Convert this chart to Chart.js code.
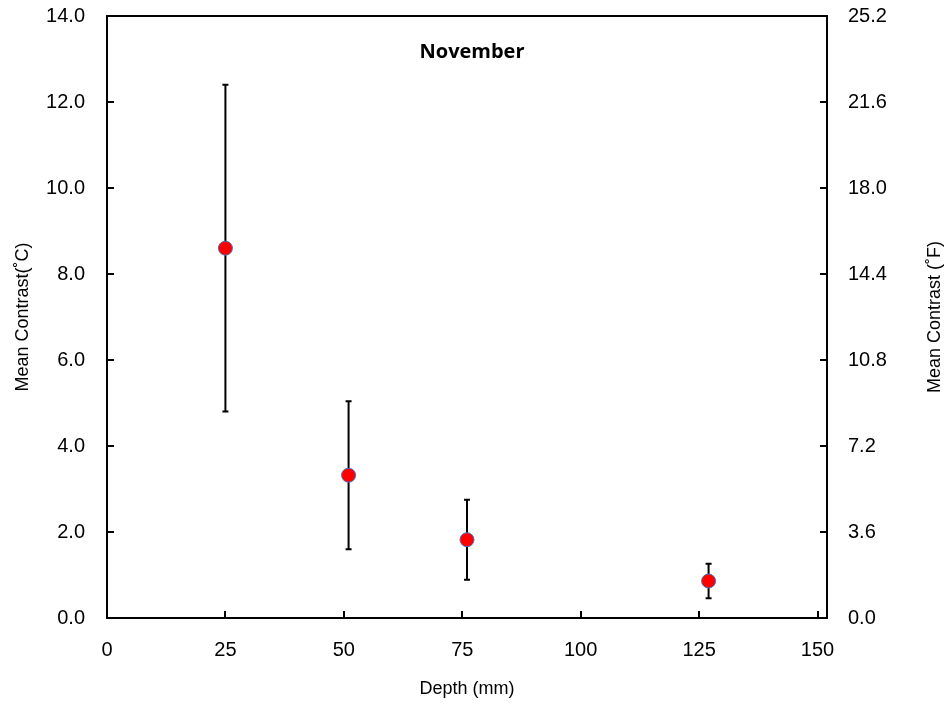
<!DOCTYPE html>
<html>
<head>
<meta charset="utf-8">
<title>November - Mean Contrast vs Depth</title>
<script src="https://cdn.jsdelivr.net/npm/chart.js@4.4.0/dist/chart.umd.min.js"></script>
<style>
  html, body { margin: 0; padding: 0; background: #fff; }
  #wrap { width: 949px; height: 704px; }
</style>
</head>
<body>
<div id="wrap"><canvas id="chart" width="949" height="704"></canvas></div>
<script>
// ================== Data ==================
const depthMm = [25, 51, 76, 127];
const meanContrastC = [8.6, 3.32, 1.82, 0.86];
const errorC = [3.8, 1.72, 0.93, 0.4];

const xTicks = [0, 25, 50, 75, 100, 125, 150];
const leftTicks = [0, 2, 4, 6, 8, 10, 12, 14];
const rightTicks = [0, 3.6, 7.2, 10.8, 14.4, 18.0, 21.6, 25.2];

const chartTitle = 'November';
const xTitle = 'Depth (mm)';
const leftTitle = 'Mean Contrast(\u02DAC)';
const rightTitle = 'Mean Contrast (\u02DAF)';

const tickFont = { family: '"Liberation Sans", Arial, sans-serif', size: 20 };
const titleFont = { family: '"Liberation Sans", Arial, sans-serif', size: 18 };

// ================== Plugins ==================
// inward tick marks, top border line and error bars
const decorPlugin = {
    id: 'decor',
    beforeDatasetsDraw(chart) {
        const ctx = chart.ctx;
        const area = chart.chartArea;
        const x = chart.scales.x, y = chart.scales.y, y2 = chart.scales.y2;
        const len = 7;

        ctx.save();
        ctx.strokeStyle = '#000';
        ctx.lineWidth = 2;

        // top border
        ctx.beginPath();
        ctx.moveTo(area.left - 1, area.top);
        ctx.lineTo(area.right + 1, area.top);
        ctx.stroke();

        ctx.beginPath();
        xTicks.forEach(v => {
            const px = Math.round(x.getPixelForValue(v));
            ctx.moveTo(px, area.bottom);
            ctx.lineTo(px, area.bottom - len);
        });
        leftTicks.forEach(v => {
            const py = Math.round(y.getPixelForValue(v));
            ctx.moveTo(area.left, py);
            ctx.lineTo(area.left + len, py);
        });
        rightTicks.forEach(v => {
            const py = Math.round(y2.getPixelForValue(v));
            ctx.moveTo(area.right, py);
            ctx.lineTo(area.right - len, py);
        });
        ctx.stroke();

        // error bars
        ctx.beginPath();
        depthMm.forEach((d, i) => {
            const px = x.getPixelForValue(d);
            const top = y.getPixelForValue(meanContrastC[i] + errorC[i]);
            const bot = y.getPixelForValue(meanContrastC[i] - errorC[i]);
            ctx.moveTo(px, top);
            ctx.lineTo(px, bot);
            ctx.moveTo(px - 3, top);
            ctx.lineTo(px + 3, top);
            ctx.moveTo(px - 3, bot);
            ctx.lineTo(px + 3, bot);
        });
        ctx.stroke();
        ctx.restore();
    },
    afterDraw(chart) {
        const ctx = chart.ctx;
        const area = chart.chartArea;
        ctx.save();
        ctx.fillStyle = '#000';
        ctx.textAlign = 'center';
        ctx.textBaseline = 'middle';

        // chart title inside plot
        ctx.font = 'bold 20px "Open Sans", sans-serif';
        ctx.fillText(chartTitle, (area.left + area.right) / 2 + 5, area.top + 36);

        // right axis title, reading bottom to top
        ctx.font = titleFont.size + 'px ' + titleFont.family;
        ctx.translate(935, (area.top + area.bottom) / 2);
        ctx.rotate(-Math.PI / 2);
        ctx.fillText(rightTitle, 0, 0);
        ctx.restore();
    }
};

// fix side axis width and keep the plot top at 16px
function fitSide(width) {
    return s => {
        s.width = width;
        s.paddingTop = 16;
        s.paddingBottom = 0;
    };
}

// ================== Chart ==================
const ctx = document.getElementById('chart');

new Chart(ctx, {
    type: 'scatter',
    data: {
        datasets: [{
            label: 'Mean contrast',
            data: depthMm.map((d, i) => ({ x: d, y: meanContrastC[i] })),
            backgroundColor: '#FF0000',
            borderColor: '#4472C4',
            borderWidth: 1,
            pointRadius: 7,
            pointHoverRadius: 7,
            yAxisID: 'y'
        }]
    },
    options: {
        responsive: false,
        animation: false,
        events: [],
        layout: { padding: 0 },
        plugins: {
            legend: { display: false },
            tooltip: { enabled: false }
        },
        scales: {
            x: {
                type: 'linear',
                min: 0,
                max: 152,
                afterBuildTicks: s => { s.ticks = xTicks.map(v => ({ value: v })); },
                afterFit: s => { s.height = 86; s.paddingLeft = 0; s.paddingRight = 0; },
                grid: { display: false, drawTicks: false },
                border: { display: true, color: '#000', width: 2 },
                ticks: { color: '#000', font: tickFont, padding: 20 },
                title: { display: true, text: xTitle, color: '#000', font: titleFont, padding: { top: 0, bottom: 4 } }
            },
            y: {
                type: 'linear',
                position: 'left',
                min: 0,
                max: 14,
                afterBuildTicks: s => { s.ticks = leftTicks.map(v => ({ value: v })); },
                afterFit: fitSide(107),
                grid: { display: false, drawTicks: false },
                border: { display: true, color: '#000', width: 2 },
                ticks: { color: '#000', font: tickFont, padding: 22, callback: v => v.toFixed(1) },
                title: { display: true, text: leftTitle, color: '#000', font: titleFont, padding: { top: 12, bottom: 0 } }
            },
            y2: {
                type: 'linear',
                position: 'right',
                min: 0,
                max: 25.2,
                afterBuildTicks: s => { s.ticks = rightTicks.map(v => ({ value: v })); },
                afterFit: fitSide(122),
                grid: { display: false, drawTicks: false },
                border: { display: true, color: '#000', width: 2 },
                ticks: { color: '#000', font: tickFont, padding: 21, callback: v => v.toFixed(1) }
            }
        }
    },
    plugins: [decorPlugin]
});
</script>
</body>
</html>
